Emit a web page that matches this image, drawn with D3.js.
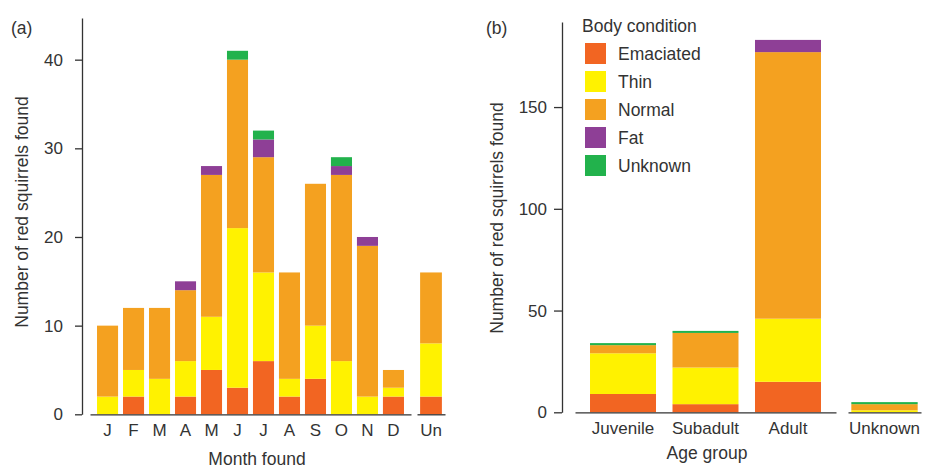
<!DOCTYPE html>
<html>
<head>
<meta charset="utf-8">
<script src="https://cdn.jsdelivr.net/npm/d3@7"></script>
<style>
  body { margin: 0; background: #fff; }
  svg { display: block; font-family: "Liberation Sans", Arial, sans-serif; }
  .axis text { fill: #333; font-size: 17px; }
  .axis path, .axis line { stroke: #333; stroke-width: 1.3; }
  .title { fill: #333; font-size: 17.5px; }
</style>
</head>
<body>
<svg id="chart" width="925" height="468"></svg>
<script>
// body condition categories (stack order bottom -> top)
const conditions = ["Emaciated", "Thin", "Normal", "Fat", "Unknown"];
const colors = ["#f26522", "#fff200", "#f4a120", "#8e3f96", "#22b24c"];

// panel (a): by month found (keys must be unique, labels are shown)
const months = ["J", "F", "M", "A", "M ", "J ", "J  ", "A ", "S", "O", "N", "D"];
const monthLabels = ["J", "F", "M", "A", "M", "J", "J", "A", "S", "O", "N", "D"];
const emaciatedByMonth = [0, 2, 0, 2, 5, 3, 6, 2, 4, 0, 0, 2, 2];
const thinByMonth      = [2, 3, 4, 4, 6, 18, 10, 2, 6, 6, 2, 1, 6];
const normalByMonth    = [8, 7, 8, 8, 16, 19, 13, 12, 16, 21, 17, 2, 8];
const fatByMonth       = [0, 0, 0, 1, 1, 0, 2, 0, 0, 1, 1, 0, 0];
const unknownByMonth   = [0, 0, 0, 0, 0, 1, 1, 0, 0, 1, 0, 0, 0];
const monthTicks = [0, 10, 20, 30, 40];

// panel (b): by age group (last value = unknown age)
const ages = ["Juvenile", "Subadult", "Adult"];
const emaciatedByAge = [9, 4, 15, 0];
const thinByAge      = [20, 18, 31, 1];
const normalByAge    = [4, 17, 131, 3];
const fatByAge       = [0, 0, 6, 0];
const unknownByAge   = [1, 1, 0, 1];
const ageTicks = [0, 50, 100, 150];

const svg = d3.select("#chart");
const color = d3.scaleOrdinal(conditions, colors);

function rows(keys, series) {
  return keys.map((k, i) => {
    const r = { key: k };
    conditions.forEach((c, j) => (r[c] = series[j][i]));
    return r;
  });
}

const monthRows = rows(months.concat(["Un"]),
  [emaciatedByMonth, thinByMonth, normalByMonth, fatByMonth, unknownByMonth]);
const ageRows = rows(ages.concat(["Unknown"]),
  [emaciatedByAge, thinByAge, normalByAge, fatByAge, unknownByAge]);

const stack = d3.stack().keys(conditions);

// x scales are picked per key: main group or the separate "unknown" bar
function drawBars(g, data, pickX, y) {
  g.selectAll("g.layer")
    .data(stack(data))
    .join("g")
    .attr("class", "layer")
    .attr("fill", d => color(d.key))
    .selectAll("rect")
    .data(d => d)
    .join("rect")
    .attr("x", d => pickX(d.data.key)(d.data.key))
    .attr("width", d => pickX(d.data.key).bandwidth())
    .attr("y", d => y(d[1]))
    .attr("height", d => y(d[0]) - y(d[1]));
}

// ---------- panel (a) ----------
const yA = d3.scaleLinear().domain([0, 44.7]).range([414.3, 18]);
const xA = d3.scaleBand().domain(months).range([90, 411]).paddingInner(0.19).paddingOuter(0.27);
const xAun = d3.scaleBand().domain(["Un"]).range([417, 445]).padding(0.125);

const gA = svg.append("g");
drawBars(gA, monthRows, k => (k === "Un" ? xAun : xA), yA);

gA.append("g").attr("class", "axis")
  .attr("transform", "translate(82,0)")
  .call(d3.axisLeft(yA).tickValues(monthTicks).tickSize(7).tickSizeOuter(0).tickPadding(12));

gA.append("g").attr("class", "axis")
  .attr("transform", "translate(0,414.3)")
  .call(d3.axisBottom(xA).tickSize(0).tickPadding(10).tickFormat((d, i) => monthLabels[i]));

gA.append("g").attr("class", "axis")
  .attr("transform", "translate(0,414.3)")
  .call(d3.axisBottom(xAun).tickSize(0).tickPadding(10));

gA.append("text").attr("class", "title")
  .attr("transform", "translate(28,212) rotate(-90)")
  .attr("text-anchor", "middle")
  .text("Number of red squirrels found");

gA.append("text").attr("class", "title")
  .attr("x", 257).attr("y", 465)
  .attr("text-anchor", "middle")
  .text("Month found");

gA.append("text").attr("class", "title")
  .attr("x", 11).attr("y", 34)
  .text("(a)");

// ---------- panel (b) ----------
const yB = d3.scaleLinear().domain([0, 191.8]).range([412.3, 22]);
const xB = d3.scaleBand().domain(ages).range([575, 836]).paddingInner(0.2).paddingOuter(0.182);
const xBun = d3.scaleBand().domain(["Unknown"]).range([848, 921]).paddingInner(0).paddingOuter(0.05);

const gB = svg.append("g");
drawBars(gB, ageRows, k => (k === "Unknown" ? xBun : xB), yB);

gB.append("g").attr("class", "axis")
  .attr("transform", "translate(562,0)")
  .call(d3.axisLeft(yB).tickValues(ageTicks).tickSize(8).tickSizeOuter(0).tickPadding(7));

gB.append("g").attr("class", "axis")
  .attr("transform", "translate(0,412.3)")
  .call(d3.axisBottom(xB).tickSize(0).tickPadding(10));

gB.append("g").attr("class", "axis")
  .attr("transform", "translate(0,412.3)")
  .call(d3.axisBottom(xBun).tickSize(0).tickPadding(10));

gB.append("text").attr("class", "title")
  .attr("transform", "translate(503,218) rotate(-90)")
  .attr("text-anchor", "middle")
  .text("Number of red squirrels found");

gB.append("text").attr("class", "title")
  .attr("x", 707).attr("y", 459)
  .attr("text-anchor", "middle")
  .text("Age group");

gB.append("text").attr("class", "title")
  .attr("x", 486).attr("y", 34)
  .text("(b)");

// legend
const legend = svg.append("g").attr("transform", "translate(582,0)");
legend.append("text").attr("class", "title")
  .attr("x", 0).attr("y", 32)
  .text("Body condition");

const item = legend.selectAll("g.item")
  .data(conditions)
  .join("g")
  .attr("class", "item")
  .attr("transform", (d, i) => `translate(3,${43 + i * 28})`);

item.append("rect")
  .attr("width", 21).attr("height", 21)
  .attr("fill", d => color(d));

item.append("text").attr("class", "title")
  .attr("x", 33).attr("y", 16.5)
  .text(d => d);
</script>
</body>
</html>
